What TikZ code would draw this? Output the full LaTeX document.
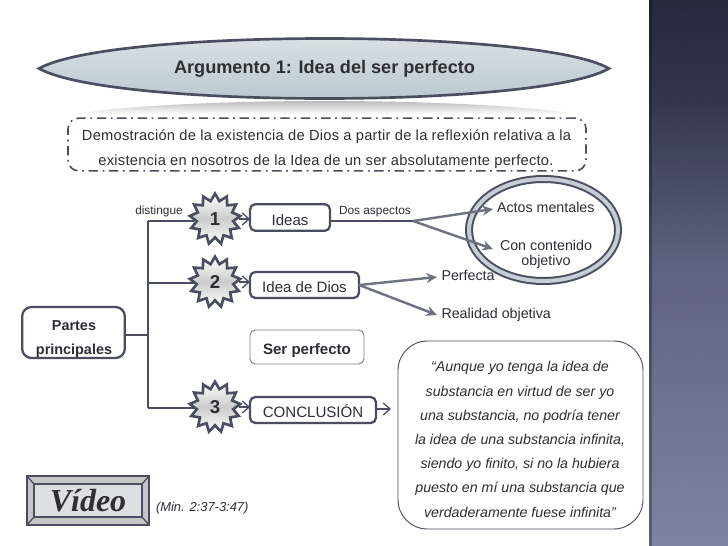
\documentclass[tikz,border=0pt]{standalone}
\usepackage{fontspec}
\setmainfont{Liberation Sans}
\newfontfamily\vidfont{Liberation Serif}
\usetikzlibrary{arrows.meta,shapes.geometric,shapes.misc}
\definecolor{ink}{HTML}{4A4E60}
\definecolor{txt}{HTML}{2E2E34}
\definecolor{lensA}{HTML}{DDE4E9}
\definecolor{lensB}{HTML}{B7C4CC}
\definecolor{panT}{HTML}{1F2336}
\definecolor{panQ}{HTML}{2C3048}
\definecolor{panM}{HTML}{5A5F7E}
\definecolor{panB}{HTML}{7A7F9E}
\tikzset{
  x=0.75pt,y=-0.75pt,
  every node/.style={text=txt,inner sep=0pt,outer sep=0pt},
  boxn/.style={draw=ink,line width=1.7pt,rounded corners=4pt,fill=white,align=center,text height=11.5pt,text depth=0pt,font=\fontsize{11.3}{13}\selectfont},
  starn/.style={star,star points=13,star point ratio=1.38,minimum size=38pt,draw=ink,line width=2pt,
     top color=white,bottom color=white,middle color=gray!40,font=\bfseries\fontsize{14}{15}\selectfont},
  tree/.style={draw=ink,line width=1.5pt},
  open/.style={draw=ink,line width=1pt,-{Straight Barb[length=5pt,width=9pt,line width=1pt]}},
  fat/.style={draw=ink!80,line width=1.8pt,-{Stealth[length=8pt,width=7.5pt]}},
  lbl/.style={font=\fontsize{8.9}{10}\selectfont},
  side/.style={font=\fontsize{10.7}{11.25}\selectfont,anchor=west},
}
\begin{document}
\begin{tikzpicture}
\useasboundingbox (0,0) rectangle (728,546);
\fill[white] (0,0) rectangle (728,546);
% right panel
\shade[top color=panT,bottom color=panQ] (649,0) rectangle (728,100);
\shade[top color=panQ,bottom color=panM] (649,100) rectangle (728,273);
\shade[top color=panM,bottom color=panB] (649,273) rectangle (728,546);
\begin{scope}
\clip (649,0) rectangle (728,546);
\foreach \yy in {0,36,...,576}{
  \foreach \xx in {648,684,720}{
    \fill[white,opacity=.03] (\xx,\yy-18) -- (\xx+18,\yy) -- (\xx,\yy+18) -- (\xx-18,\yy) -- cycle;
    \fill[white,opacity=.03] (\xx+18,\yy) -- (\xx+36,\yy+18) -- (\xx+18,\yy+36) -- (\xx,\yy+18) -- cycle;
  }
}
\end{scope}
\fill[black,opacity=.28] (649,0) rectangle (652,546);
% lens shadow under title
\begin{scope}
\clip (60,116) .. controls (170,96) and (480,96) .. (590,116) -- cycle;
\shade[top color=gray!65,bottom color=white] (60,98) rectangle (590,114);
\end{scope}
% title
\path[draw=ink,line width=2pt,top color=lensA,bottom color=lensB]
  (39,68.5) .. controls (110,28.5) and (540,28.5) .. (609,68.5) .. controls (540,108.5) and (110,108.5) .. (39,68.5) -- cycle;
\node (title) at (324.5,69) {\bfseries\fontsize{13.6}{16}\selectfont Argumento 1: Idea del ser perfecto};
% dashed box
\node[draw=ink,line width=1.2pt,dash pattern=on 7pt off 3.5pt on 1.3pt off 3.5pt,rounded corners=8pt,
      minimum width=388.5pt,minimum height=39.5pt] (intro) at (327,144.5) {};
\node[font=\fontsize{11}{14}\selectfont\addfontfeature{LetterSpace=1.7}] (i1) at (326.5,137) {Demostración de la existencia de Dios a partir de la reflexión relativa a la};
\node[font=\fontsize{11}{14}\selectfont\addfontfeature{LetterSpace=1.7}] (i2) at (326,161.5) {existencia en nosotros de la Idea de un ser absolutamente perfecto.};
% boxes
\node[boxn,minimum width=60pt,minimum height=20pt] (ideas) at (290,217.5) {Ideas};
\node[boxn,minimum width=81.75pt,minimum height=19.5pt] (dios) at (304.5,285) {Idea de Dios};
\node[boxn,draw=gray,line width=.7pt,minimum width=85.5pt,minimum height=25.5pt,font=\bfseries\fontsize{11.3}{13}\selectfont] (ser) at (307,347) {Ser perfecto};
\node[boxn,minimum width=94.5pt,minimum height=19.5pt] (conc) at (313,410) {CONCLUSIÓN};
\node[draw=ink,line width=1.7pt,rounded corners=7pt,fill=white,minimum width=77pt,minimum height=38.25pt] (partes) at (73.5,332.5) {};
\node[align=center,font=\bfseries\fontsize{10.8}{18}\selectfont] (partesT) at (74,339) {Partes\\principales};
% tree
\coordinate (trunkT) at (148,221);
\coordinate (trunkM) at (148,283);
\coordinate (trunkB) at (148,408);
\coordinate (trunkP) at (148,335);
\draw[tree] (partes.east |- trunkP) -- (trunkP);
\draw[tree] (trunkT) -- (trunkB);
\node[starn] (s1) at (215,219) {1};
\node[starn] (s2) at (215,282) {2};
\node[starn] (s3) at (215,407) {3};
\draw[tree] (trunkT) -- (s1.west |- trunkT);
\draw[tree] (trunkM) -- (s2.west |- trunkM);
\draw[tree] (trunkB) -- (s3.west |- trunkB);
\draw[open] (s1.center) ++(24,0) coordinate (a1) -- (ideas.west |- a1);
\draw[open] (s2.center) ++(24,0) coordinate (a2) -- (dios.west |- a2);
\draw[open] (s3.center) ++(24,0) coordinate (a3) -- (conc.west |- a3);
% quote
\node[draw=ink,line width=.7pt,rounded corners=22pt,minimum width=183.75pt,minimum height=141pt] (quote) at (520.5,435) {};
\node[align=center,font=\itshape\fontsize{10.65}{18.15}\selectfont] (quoteT) at (520,439.5)
 {“Aunque yo tenga la idea de\\substancia en virtud de ser yo\\una substancia, no podría tener\\la idea de una substancia infinita,\\siendo yo finito, si no la hubiera\\puesto en mí una substancia que\\verdaderamente fuese infinita”};
\coordinate (c1) at (383,409);
\coordinate (c2) at (391,409);
\draw[tree] (conc.east |- c1) -- (c1);
\draw[open] (c1) -- (c2);
% labels
\node[lbl] (dist) at (159,211) {distingue};
\node[lbl,anchor=west] (dos) at (339,212) {Dos aspectos};
\node[side] (actos) at (497,207) {Actos mentales};
\node[side,align=center,anchor=center] (cont) at (546,254.5) {Con contenido\\objetivo};
\node[side] (perf) at (441.5,275.5) {Perfecta};
\node[side] (real) at (441.5,315) {Realidad objetiva};
% double ellipse
\draw[draw=ink,line width=6pt] (543.5,230) ellipse [x radius=74.5,y radius=51];
\draw[draw=lensA!85!ink,line width=3pt] (543.5,230) ellipse [x radius=74.5,y radius=51];
% fat arrows
\coordinate (f1) at (413,221);
\coordinate (t1) at (493,209);
\coordinate (t2) at (493,249);
\coordinate (t3) at (437,277);
\coordinate (t4) at (437,315);
\draw[tree] (ideas.east |- f1) -- (f1);
\draw[fat] (f1) -- (t1);
\draw[fat] (f1) -- (t2);
\draw[fat] (dios.east) -- (t3);
\draw[fat] (dios.east) -- (t4);
% video
\node[minimum width=91.5pt,minimum height=36.75pt,draw=ink,line width=2.2pt,fill=gray!45] (vout) at (88,500.5) {};
\node[minimum width=81pt,minimum height=24.75pt,draw=ink,line width=2pt,fill=ink!18,
      font=\vidfont\bfseries\itshape\fontsize{24}{24}\selectfont] (vin) at (88,500.5) {Vídeo};
\draw[ink,line width=1pt] (vout.north west) -- (vin.north west) (vout.north east) -- (vin.north east) (vout.south west) -- (vin.south west) (vout.south east) -- (vin.south east);
\node[font=\itshape\fontsize{9.7}{10}\selectfont,anchor=west] (min) at (156,508) {(Min. 2:37-3:47)};
\end{tikzpicture}
\end{document}
